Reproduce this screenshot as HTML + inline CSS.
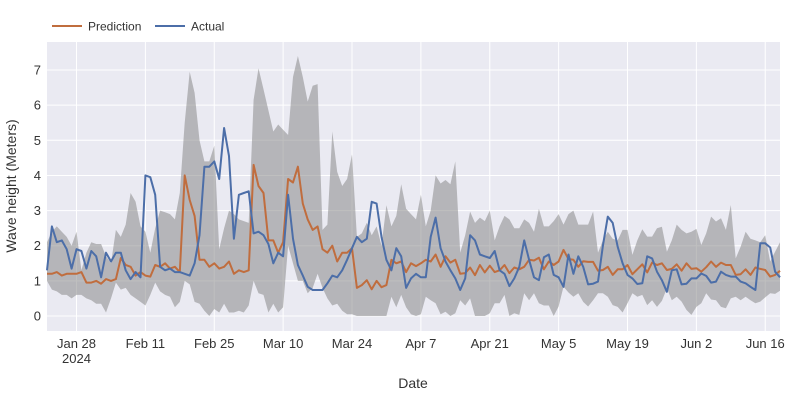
<!DOCTYPE html>
<html><head><meta charset="utf-8"><style>
body{margin:0;background:#fff;font-family:"Liberation Sans",sans-serif}
svg{display:block}
</style></head><body>
<svg id="c" width="800" height="400" xmlns="http://www.w3.org/2000/svg"></svg>
<script>
const actual=[1.3,2.55,2.1,2.15,1.9,1.35,1.9,1.85,1.35,1.85,1.7,1.1,1.8,1.55,1.8,1.8,1.3,1.05,1.25,1.1,4.0,3.95,3.45,1.4,1.3,1.35,1.25,1.25,1.2,1.15,1.5,2.3,4.25,4.25,4.4,3.9,5.35,4.55,2.2,3.45,3.5,3.55,2.35,2.4,2.3,2.05,1.5,1.8,1.7,3.45,2.2,1.45,1.15,0.83,0.74,0.74,0.74,0.93,1.15,1.1,1.3,1.6,1.93,2.25,2.1,2.2,3.25,3.2,2.25,1.6,1.3,1.93,1.7,0.8,1.07,1.2,1.1,1.1,2.25,2.8,1.93,1.55,1.3,1.07,0.74,1.07,2.3,2.15,1.75,1.7,1.65,1.85,1.3,1.2,0.85,1.07,1.4,2.15,1.6,1.1,1.02,1.67,1.75,1.17,1.1,0.83,1.75,1.2,1.7,1.4,0.9,0.92,0.98,2.0,2.83,2.65,1.97,1.5,1.17,1.07,0.91,0.93,1.7,1.64,1.26,1.02,0.69,1.3,1.33,0.9,0.92,1.07,1.07,1.21,1.14,0.95,0.98,1.26,1.17,1.12,1.12,0.98,0.93,0.83,0.74,2.07,2.07,1.95,1.26,1.1];
const prediction=[1.2,1.2,1.25,1.15,1.2,1.2,1.2,1.25,0.95,0.95,1.0,0.92,1.05,1.0,1.05,1.65,1.45,1.4,1.15,1.25,1.15,1.12,1.45,1.4,1.5,1.35,1.4,1.25,4.0,3.3,2.85,1.6,1.6,1.4,1.5,1.35,1.4,1.55,1.2,1.3,1.25,1.3,4.3,3.7,3.5,2.15,2.15,1.8,2.1,3.9,3.8,4.25,3.2,2.75,2.45,2.55,1.9,1.8,2.0,1.55,1.8,1.8,1.93,0.8,0.88,1.02,0.76,1.0,0.82,0.88,1.6,1.5,1.55,1.25,1.5,1.42,1.5,1.6,1.55,1.75,1.4,1.7,1.52,1.6,1.2,1.22,1.38,1.16,1.45,1.24,1.43,1.25,1.3,1.45,1.22,1.38,1.33,1.4,1.6,1.58,1.66,1.33,1.55,1.45,1.55,1.88,1.62,1.6,1.4,1.56,1.54,1.54,1.29,1.31,1.4,1.17,1.33,1.33,1.45,1.19,1.33,1.47,1.24,1.52,1.45,1.5,1.31,1.34,1.47,1.29,1.5,1.34,1.36,1.26,1.39,1.55,1.4,1.52,1.45,1.45,1.17,1.19,1.33,1.17,1.38,1.34,1.31,1.12,1.17,1.29];
const upper=[2.1,2.4,2.55,2.4,2.25,2.0,2.4,1.3,1.8,2.1,2.05,2.05,1.7,1.5,2.45,2.25,2.6,3.5,3.25,2.55,2.4,1.8,2.5,3.0,2.95,2.9,2.75,3.5,5.5,6.95,6.35,5.0,4.4,4.4,4.85,1.9,2.5,3.0,2.9,2.75,2.7,2.65,6.15,7.05,6.45,5.85,5.25,5.45,5.3,5.15,6.8,7.4,6.8,6.1,6.55,6.6,2.45,2.6,5.25,4.1,3.7,3.9,4.6,2.25,2.35,2.65,2.3,2.55,2.0,3.15,2.55,2.85,3.75,3.05,2.9,2.75,3.45,2.55,3.0,4.0,3.77,3.87,3.75,4.4,1.8,2.3,2.97,2.65,2.8,2.7,3.0,2.15,2.55,2.85,2.75,2.5,2.5,2.75,2.65,2.4,3.05,2.55,2.55,2.7,2.9,2.6,2.9,3.0,2.6,2.6,2.6,2.97,1.8,2.15,2.4,2.2,2.15,2.45,2.45,1.74,2.15,2.47,2.26,2.26,2.5,2.54,1.83,2.15,2.6,2.45,2.35,2.4,2.48,2.02,2.35,2.83,2.69,2.78,2.45,3.16,1.64,1.97,2.4,2.2,2.15,2.1,2.3,1.55,1.83,2.1];
const lower=[1.0,0.75,0.7,0.6,0.6,0.5,0.6,0.6,0.5,0.45,0.35,0.35,0.1,0.5,0.95,0.75,0.8,0.6,0.5,0.4,0.3,0.6,0.95,0.7,0.6,0.55,0.25,0.4,1.0,0.9,0.4,0.35,0.15,0.0,0.2,0.1,0.35,0.1,0.1,0.15,0.1,0.3,1.0,0.65,0.6,0.1,0.35,0.1,0.25,2.0,1.5,1.0,1.0,0.65,0.8,1.2,0.8,0.5,0.3,0.35,0.15,0.05,0.05,0.0,0.0,0.0,0.0,0.0,0.0,0.0,0.55,0.25,0.6,0.25,0.05,0.0,0.05,0.55,0.45,0.36,0.05,0.12,0.0,0.08,0.45,0.3,0.5,0.0,0.0,0.0,0.08,0.36,0.36,0.6,0.0,0.08,0.03,0.65,0.45,0.65,0.36,0.3,0.3,0.0,0.27,0.83,0.67,0.55,0.65,0.4,0.27,0.45,0.65,0.65,0.55,0.31,0.26,0.1,0.36,0.65,0.55,0.6,0.31,0.45,0.26,0.43,0.79,0.45,0.55,0.41,0.17,0.03,0.26,0.36,0.65,0.47,0.45,0.26,0.22,0.5,0.55,0.45,0.55,0.45,0.36,0.41,0.53,0.65,0.63,0.72];
const xTickLabels=["Jan 28","Feb 11","Feb 25","Mar 10","Mar 24","Apr 7","Apr 21","May 5","May 19","Jun 2","Jun 16"];
const xTickDays=[6,20,34,48,62,76,90,104,118,132,146];
const yTicks=[0,1,2,3,4,5,6,7];
const NS="http://www.w3.org/2000/svg";
const svg=document.getElementById('c');
const TXT='#333';
const L=47,R=780,T=42,B=331;
const xs=i=>L+(R-L)*i/149;
const ys=v=>316-35.14*v;
function mk(t,a,p){const e=document.createElementNS(NS,t);for(const k in a)e.setAttribute(k,a[k]);(p||svg).appendChild(e);return e;}
const bg=mk('rect',{x:L,y:T,width:R-L,height:B-T,fill:'#eaeaf2'});


yTicks.forEach(v=>{
  const g=mk('line',{x1:L,x2:R,y1:ys(v),y2:ys(v),stroke:'#fff','stroke-width':1});
  
  
  const t=mk('text',{x:L-6,y:ys(v)+4.5,'text-anchor':'end','font-size':13,fill:TXT});
  t.textContent=v;
  
  
});
xTickDays.forEach((d,k)=>{
  const g=mk('line',{x1:xs(d),x2:xs(d),y1:T,y2:B,stroke:'#fff','stroke-width':1});
  
  
  const t=mk('text',{x:xs(d),y:348,'text-anchor':'middle','font-size':13,fill:TXT});
  t.textContent=xTickLabels[k];
  
  
});
const yr=mk('text',{x:xs(6),y:363,'text-anchor':'middle','font-size':13,fill:TXT});
yr.textContent='2024';


let d='';
upper.forEach((v,i)=>{d+=(i?'L':'M')+xs(i).toFixed(1)+','+ys(v).toFixed(1);});
for(let i=lower.length-1;i>=0;i--)d+='L'+xs(i).toFixed(1)+','+ys(lower[i]).toFixed(1);
const band=mk('path',{d:d+'Z',fill:'rgba(128,128,128,0.5)',stroke:'none'});


function line(arr,col,name){
  const p=mk('path',{d:arr.map((v,i)=>(i?'L':'M')+xs(i).toFixed(1)+','+ys(v).toFixed(1)).join(''),fill:'none',stroke:col,'stroke-width':2,'stroke-linejoin':'round'});
  
  
}
line(prediction,'#c06d3e','prediction-line');
line(actual,'#4c6ea8','actual-line');
const yt=mk('text',{x:16,y:186,'text-anchor':'middle','font-size':14,fill:TXT,transform:'rotate(-90 16 186)'});
yt.textContent='Wave height (Meters)';


const xt=mk('text',{x:413,y:388,'text-anchor':'middle','font-size':14,fill:TXT});
xt.textContent='Date';


[['Prediction','#c06d3e',52,'legend-entry-prediction'],['Actual','#4c6ea8',155,'legend-entry-actual']].forEach(e=>{
  const g=mk('g',{});
  
  
  mk('line',{x1:e[2],x2:e[2]+30,y1:26,y2:26,stroke:e[1],'stroke-width':2},g);
  const t=mk('text',{x:e[2]+36,y:30.5,'font-size':12,fill:TXT},g);
  t.textContent=e[0];
});
</script>
</body></html>
